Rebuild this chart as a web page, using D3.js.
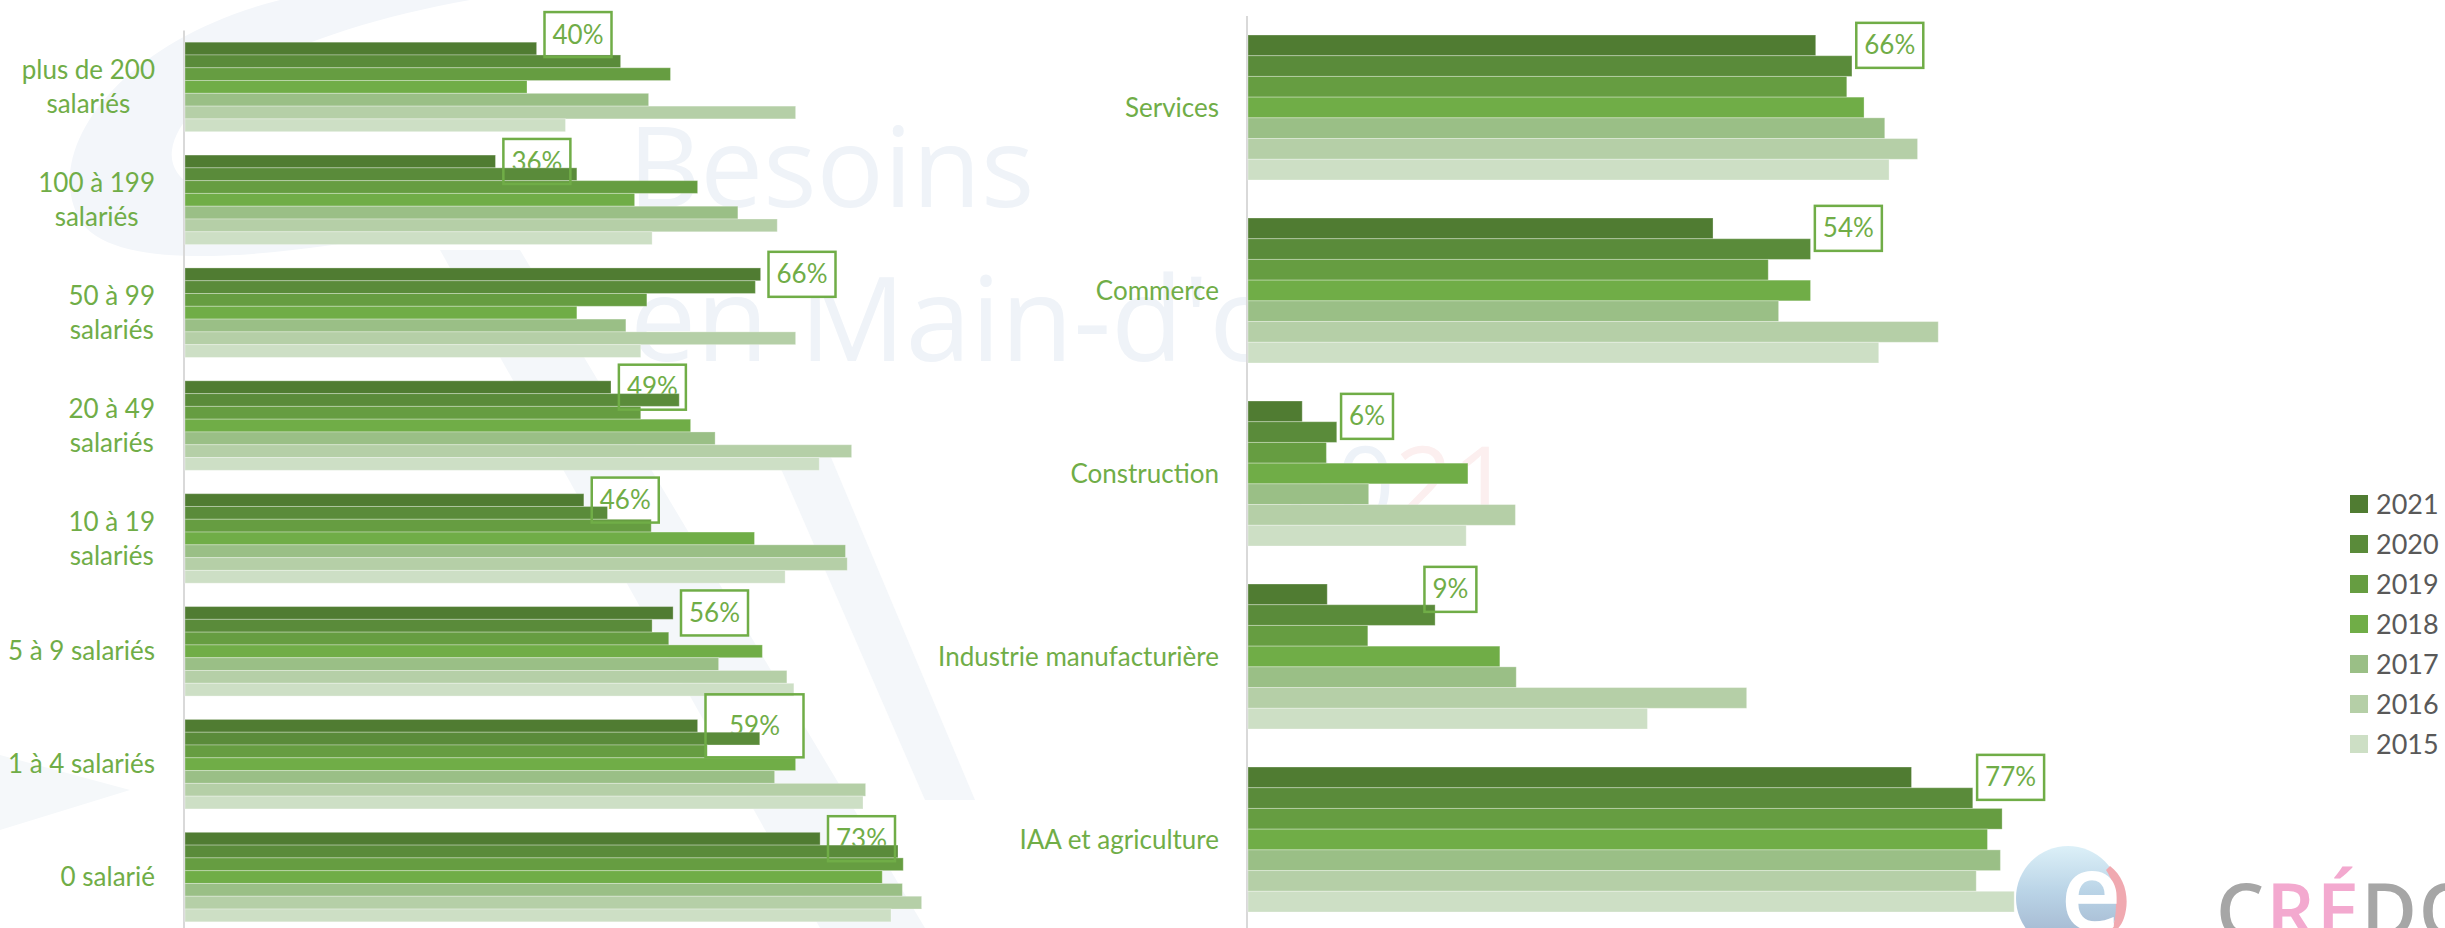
<!DOCTYPE html>
<html>
<head>
<meta charset="utf-8">
<script src="https://cdn.jsdelivr.net/npm/d3@7"></script>
<style>
  html, body { margin: 0; padding: 0; background: #fff; }
  svg { display: block; font-family: Lato, "Open Sans", sans-serif; }
</style>
</head>
<body>
<svg id="chart" width="2445" height="928"></svg>
<script>
// years, darkest first (same order as the legend and the bars in each group)
var years = ["2021", "2020", "2019", "2018", "2017", "2016", "2015"];
var yearColors = ["#507c32", "#5a8b3a", "#669d41", "#70ad47", "#9abf86", "#b5cfa7", "#cddfc5"];

// left panel : size of establishment ("\n" = line break in the label)
var sizeCats = ["plus de 200\nsalariés", "100 à 199\nsalariés", "50 à 99\nsalariés", "20 à 49\nsalariés",
                "10 à 19\nsalariés", "5 à 9 salariés", "1 à 4 salariés", "0 salarié"];
// one row per category, values in % for 2021 ... 2015
var sizeValues = [
  [40.3, 49.9, 55.6, 39.2, 53.1, 69.9, 43.6],
  [35.6, 44.9, 58.7, 51.5, 63.3, 67.8, 53.5],
  [65.9, 65.3, 52.9, 44.9, 50.5, 69.9, 52.2],
  [48.8, 56.6, 52.2, 57.9, 60.7, 76.3, 72.6],
  [45.7, 48.4, 53.4, 65.2, 75.6, 75.8, 68.7],
  [55.9, 53.5, 55.4, 66.1, 61.1, 68.9, 69.7],
  [58.7, 65.8, 59.8, 69.9, 67.5, 77.9, 77.6],
  [72.7, 81.6, 82.2, 79.8, 82.1, 84.3, 80.8]
];

// right panel : sector
var sectorCats = ["Services", "Commerce", "Construction", "Industrie manufacturière", "IAA et agriculture"];
var sectorValues = [
  [65.9, 70.1, 69.5, 71.5, 73.9, 77.7, 74.4],
  [54.0, 65.3, 60.4, 65.3, 61.6, 80.1, 73.2],
  [6.4, 10.4, 9.2, 25.6, 14.1, 31.1, 25.4],
  [9.3, 21.8, 14.0, 29.3, 31.2, 57.9, 46.4],
  [77.0, 84.1, 87.5, 85.8, 87.3, 84.5, 88.9]
];

var svg = d3.select("#chart");
var green = "#70ad47";
var fmt = function (v) { return Math.round(v) + "%"; };
var defs = svg.append("defs");

// ---- faint background watermark (Besoins en Main-d'oeuvre 2021) ----
defs.append("clipPath").attr("id", "wmClip")
  .append("rect").attr("x", 0).attr("y", 0).attr("width", 1246).attr("height", 928);
var wm = svg.append("g").attr("class", "watermark");
wm.append("path")
  .attr("d", "M280,0 C120,40 40,150 80,220 C110,270 250,262 410,232 C270,222 165,200 172,150 C180,92 300,30 470,0 Z")
  .attr("fill", "#f3f6fa");
wm.append("path").attr("d", "M440,250 L520,250 L925,928 L820,928 Z").attr("fill", "#f4f7fa");
wm.append("path").attr("d", "M775,455 L830,455 L975,800 L925,800 Z").attr("fill", "#f4f7fa");
wm.append("path").attr("d", "M0,755 L130,790 L0,830 Z").attr("fill", "#f5f8fa");
wm.append("text").attr("x", 628).attr("y", 207)
  .style("font-family", "'Open Sans'").style("font-size", "112px").attr("fill", "#eff3f8")
  .text("Besoins");
wm.append("text").attr("x", 630).attr("y", 361)
  .attr("clip-path", "url(#wmClip)")
  .style("font-family", "'Open Sans'").style("font-size", "118px").attr("fill", "#eff3f8")
  .text("en Main-d'œuvre");
var wmYear = wm.append("text").attr("x", 1278).attr("y", 520)
  .style("font-family", "'Open Sans'").style("font-size", "102px");
wmYear.append("tspan").attr("fill", "#edf2f8").text("20");
wmYear.append("tspan").attr("fill", "#fcefef").text("21");

// ---- one bar panel ----
function drawPanel(cats, values, x, y, labelRight, labelAnchor, nudges) {
  var yInner = d3.scaleBand().domain(years).range([0, y.bandwidth()]);
  var g = svg.append("g");

  // axis line
  g.append("line")
    .attr("x1", x(0)).attr("x2", x(0))
    .attr("y1", y.range()[0]).attr("y2", 928)
    .attr("stroke", "#d9d9d9").attr("stroke-width", 2);

  // category labels
  cats.forEach(function (c) {
    var lines = c.split("\n");
    var cy = y(c) + y.bandwidth() / 2;
    var t = g.append("text")
      .attr("fill", green)
      .style("font-size", "26px")
      .attr("text-anchor", "middle");
    lines.forEach(function (l, i) {
      t.append("tspan")
        .attr("x", 0)
        .attr("y", cy + (i - (lines.length - 1) / 2) * 34)
        .attr("dy", "0.35em")
        .text(l);
    });
    var w = t.node().getBBox().width;
    t.attr("transform", "translate(" + (labelRight - w / 2) + ",0)");
  });

  // label boxes (fill + text below the bars, border above them)
  var boxes = cats.map(function (c, i) {
    var n = nudges[c] || {};
    var v = values[i][0];
    var bx = x(labelAnchor(values[i])) + (n.dx || 0);
    var cy = y(c) + yInner("2021") + yInner.bandwidth() / 2 + (n.dy || 0);
    var t = g.append("text")
      .attr("fill", green)
      .style("font-size", "26px")
      .attr("text-anchor", "middle")
      .attr("dy", "0.35em")
      .text(fmt(v));
    var w = n.w || (t.node().getComputedTextLength() + 16);
    var h = n.h || 45;
    t.attr("x", bx + w / 2).attr("y", cy);
    g.insert("rect", "text:last-child")
      .attr("x", bx).attr("y", cy - h / 2).attr("width", w).attr("height", h)
      .attr("fill", "#fff");
    return { x: bx, y: cy - h / 2, w: w, h: h };
  });

  // bars
  var groups = g.selectAll("g.cat")
    .data(cats)
    .enter().append("g")
    .attr("class", "cat")
    .attr("transform", function (d) { return "translate(0," + y(d) + ")"; });

  groups.selectAll("rect")
    .data(function (d, i) { return values[i].map(function (v, j) { return { year: years[j], value: v, color: yearColors[j] }; }); })
    .enter().append("rect")
    .attr("x", x(0) + 1)
    .attr("y", function (d) { return yInner(d.year); })
    .attr("width", function (d) { return x(d.value) - x(0) - 1; })
    .attr("height", yInner.bandwidth())
    .attr("fill", function (d) { return d.color; })
    .attr("stroke", "rgba(255,255,255,0.3)")
    .attr("stroke-width", 1);

  g.selectAll("rect.lblbox")
    .data(boxes)
    .enter().append("rect")
    .attr("class", "lblbox")
    .attr("x", function (d) { return d.x; })
    .attr("y", function (d) { return d.y; })
    .attr("width", function (d) { return d.w; })
    .attr("height", function (d) { return d.h; })
    .attr("fill", "none")
    .attr("stroke", green)
    .attr("stroke-width", 2.5);
}

// left panel : 8.75 px per %
var xLeft = d3.scaleLinear().domain([0, 100]).range([184, 1059]);
var yLeft = d3.scaleBand().domain(sizeCats).range([30.5, 933.5]).paddingInner(0.207).paddingOuter(0.1035);
drawPanel(sizeCats, sizeValues, xLeft, yLeft, 155,
  function (r) { return r[0] + 0.9; },
  { "plus de 200\nsalariés": { dy: -14 }, "1 à 4 salariés": { w: 98, h: 63 } });

// right panel : 8.63 px per %
var xRight = d3.scaleLinear().domain([0, 100]).range([1247, 2110]);
var yRight = d3.scaleBand().domain(sectorCats).range([16, 931]).paddingInner(0.2077).paddingOuter(0.1038);
drawPanel(sectorCats, sectorValues, xRight, yRight, 1219,
  function (r) { return Math.max(r[0], r[1]) + 0.5; },
  { "Construction": { dy: 5 }, "Industrie manufacturière": { dx: -15, dy: -5 } });

// ---- legend ----
var legY = d3.scalePoint().domain(years).range([504, 744]);
var leg = svg.append("g").selectAll("g")
  .data(years)
  .enter().append("g")
  .attr("transform", function (d) { return "translate(2350," + legY(d) + ")"; });
leg.append("rect")
  .attr("x", 0).attr("y", -9).attr("width", 18).attr("height", 18)
  .attr("fill", function (d, i) { return yearColors[i]; });
leg.append("text")
  .attr("x", 26).attr("dy", "0.36em")
  .attr("fill", "#595959")
  .style("font-size", "27px")
  .text(function (d) { return d; });

// ---- CRÉDOC logo (bottom right, cut by the frame) ----
var grad = defs.append("linearGradient").attr("id", "logoGrad")
  .attr("x1", 0).attr("y1", 0).attr("x2", 0).attr("y2", 1);
grad.append("stop").attr("offset", 0).attr("stop-color", "#dcf0f8");
grad.append("stop").attr("offset", 0.45).attr("stop-color", "#b9d3e6");
grad.append("stop").attr("offset", 1).attr("stop-color", "#9fb1cb");
var logo = svg.append("g");
logo.append("circle").attr("cx", 2068).attr("cy", 898).attr("r", 52).attr("fill", "url(#logoGrad)");
logo.append("path")
  .attr("d", "M2110,866 C2126,878 2130,900 2124,918 C2122,924 2119,928 2116,930 L2112,930 C2118,912 2118,888 2106,870 Z")
  .attr("fill", "#f0a9b0");
logo.append("text").attr("x", 2091).attr("y", 930).attr("text-anchor", "middle")
  .style("font-family", "'Open Sans'").style("font-size", "106px").style("font-weight", 600)
  .attr("fill", "#fff").text("e");
var cred = svg.append("text").attr("x", 2216).attr("y", 938)
  .style("font-family", "'Open Sans'").style("font-size", "76px").style("font-weight", 600)
  .style("letter-spacing", "2px");
cred.append("tspan").attr("fill", "#a6a6a6").text("C");
cred.append("tspan").attr("fill", "#f3a9cf").text("RÉ");
cred.append("tspan").attr("fill", "#a6a6a6").text("DOC");
</script>
</body>
</html>
